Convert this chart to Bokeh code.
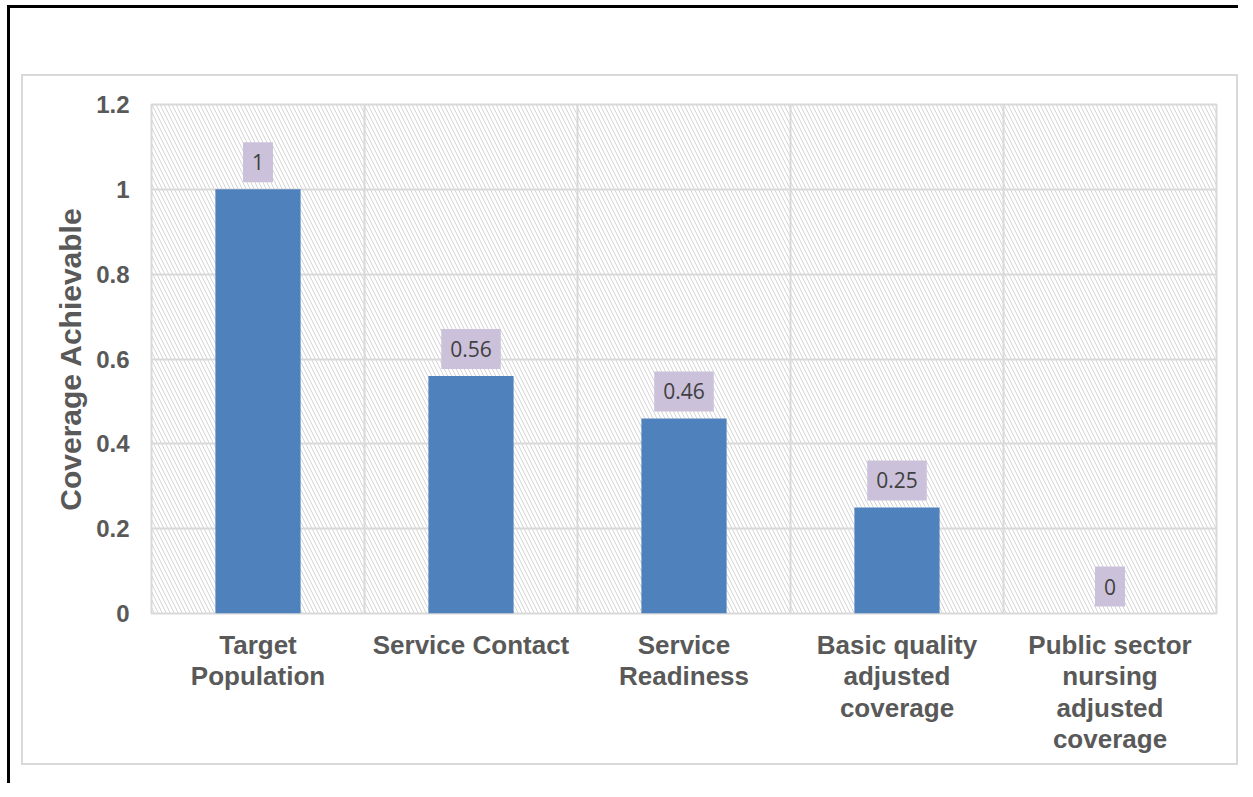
from bokeh.plotting import figure
from bokeh.layouts import column
from bokeh.models import (ColumnDataSource, FactorRange, Range1d, FixedTicker,
                          BoxAnnotation)
from bokeh.core.properties import value
from bokeh.embed import file_html
from bokeh.resources import INLINE

categories = ["Target\nPopulation", "Service Contact", "Service\nReadiness",
              "Basic quality\nadjusted\ncoverage",
              "Public sector\nnursing\nadjusted\ncoverage"]
coverage = [1.0, 0.56, 0.46, 0.25, 0.0]
coverage_labels = ["1", "0.56", "0.46", "0.25", "0"]
y_ticks = [0, 0.2, 0.4, 0.6, 0.8, 1.0, 1.2]
y_tick_labels = ["0", "0.2", "0.4", "0.6", "0.8", "1", "1.2"]
y_title = "Coverage Achievable"

# canvas placed at (23, 76) inside a grey 2px frame, inside a black page edge
CW, CH = 1217, 691
src = ColumnDataSource(dict(cat=categories, val=coverage, lab=coverage_labels))

p = figure(width=CW, height=CH, x_range=FactorRange(*categories, range_padding=0),
           y_range=Range1d(0, 1.2), output_backend="svg", toolbar_location=None,
           min_border_left=128, min_border_right=24, min_border_top=28,
           min_border_bottom=154)
p.styles = {"border": "2px solid #d9d9d9"}
p.background_fill_color = "white"
p.border_fill_color = "white"
p.outline_line_color = "#d9d9d9"
p.outline_line_width = 2

# hatched plot area
p.add_layout(BoxAnnotation(fill_alpha=0, line_alpha=0, hatch_pattern="\\",
                           hatch_color="#d4d4d4", hatch_scale=8, hatch_weight=1,
                           level="image"))

p.vbar(x="cat", top="val", width=0.4, source=src, fill_color="#4f81bd",
       line_color=None)

p.text(x="cat", y="val", text="lab", source=src, text_align="center",
       text_baseline="bottom", y_offset=-7, text_font=value("Open Sans"),
       text_font_size="21px", text_color="#404040",
       background_fill_color="#ccc1da", padding=(9, 12))

p.xgrid.ticker = FixedTicker(ticks=[0, 1, 2, 3, 4, 5])
p.xgrid.grid_line_color = "#d9d9d9"
p.xgrid.grid_line_width = 2
p.ygrid.ticker = FixedTicker(ticks=y_ticks)
p.ygrid.grid_line_color = "#d9d9d9"
p.ygrid.grid_line_width = 2

ya = p.yaxis[0]
ya.ticker = FixedTicker(ticks=y_ticks)
ya.major_label_overrides = {t: l for t, l in zip(y_ticks, y_tick_labels)}
ya.axis_line_color = None
ya.major_tick_line_color = None
ya.minor_tick_line_color = None
ya.major_label_standoff = 16
ya.major_label_text_font = "Liberation Sans"
ya.major_label_text_font_style = "bold"
ya.major_label_text_font_size = "24px"
ya.major_label_text_color = "#595959"
ya.axis_label = y_title
ya.axis_label_text_font = "Liberation Sans"
ya.axis_label_text_font_style = "bold"
ya.axis_label_text_font_size = "30px"
ya.axis_label_text_color = "#595959"
ya.axis_label_standoff = 6

xa = p.xaxis[0]
xa.axis_line_color = None
xa.major_tick_line_color = None
xa.minor_tick_line_color = None
xa.major_label_standoff = 10
xa.major_label_text_font = "Liberation Sans"
xa.major_label_text_font_style = "bold"
xa.major_label_text_font_size = "26px"
xa.major_label_text_color = "#595959"
xa.major_label_text_line_height = 1.05

page = column(p, styles={"margin-left": "7px", "margin-top": "5px",
                         "border-left": "3px solid black",
                         "border-top": "3px solid black",
                         "padding-left": "11px", "padding-top": "66px",
                         "padding-bottom": "18px"})

open("out.html", "w").write(file_html(page, INLINE))
